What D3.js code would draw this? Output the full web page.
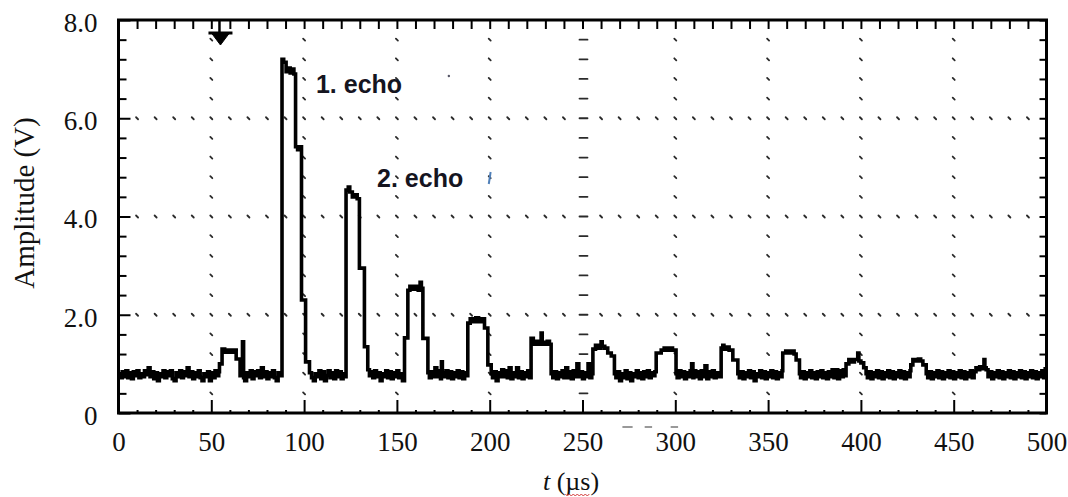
<!DOCTYPE html>
<html>
<head>
<meta charset="utf-8">
<script src="https://cdn.jsdelivr.net/npm/d3@7"></script>
<style>
  html, body { margin: 0; padding: 0; background: #fff; }
  svg { display: block; }
</style>
</head>
<body>
<svg id="chart" width="1068" height="497"></svg>
<script>
// ---- data -----------------------------------------------------------------
// Oscilloscope trace of the received ultrasonic signal: [time (µs), amplitude (V)]
const signal = [
  [0,0.80],[1,0.72],[2,0.84],[3,0.74],[4,0.86],[5,0.72],[6,0.82],[7,0.70],[8,0.84],[9,0.76],
  [10,0.86],[11,0.72],[12,0.80],[13,0.74],[14,0.86],[15,0.78],[16,0.92],[17,0.74],[18,0.84],[19,0.70],
  [20,0.82],[21,0.66],[22,0.80],[23,0.74],[24,0.86],[25,0.72],[26,0.84],[27,0.76],[28,0.86],[29,0.70],
  [30,0.66],[31,0.82],[32,0.74],[33,0.86],[34,0.72],[35,0.84],[36,0.76],[37,0.92],[38,0.74],[39,0.84],
  [40,0.70],[41,0.82],[42,0.74],[43,0.86],[44,0.72],[45,0.66],[46,0.80],[47,0.74],[48,0.84],[49,0.66],
  [50,0.82],[51,0.72],[52,0.86],[53,0.76],[54,0.84],
  // trigger pulse
  [54.4,1.00],[55.8,1.30],[57.2,1.24],[58.5,1.28],[60,1.24],[61.5,1.28],[63.4,1.10],[65.5,0.76],
  [66.2,0.84],[66.8,1.45],[67.4,0.72],
  [68,0.66],[69,0.82],[70,0.74],[71,0.86],[72,0.70],[73,0.84],[74,0.76],[75,0.86],[76,0.72],[77,0.92],
  [78,0.74],[79,0.84],[80,0.70],[81,0.82],[82,0.74],[83,0.86],[84,0.72],[85,0.66],[86,0.82],[87,0.76],
  // 1. echo
  [88.1,7.20],[89,7.14],[90.3,6.95],[91.5,7.02],[92.5,6.92],[93.5,7.00],[94.5,6.90],[95.4,5.42],
  [96.5,5.36],[97.5,5.42],[98.6,2.30],[100.8,1.04],[102.9,0.82],
  [104,0.72],[105,0.66],[106,0.80],[107,0.74],[108,0.86],[109,0.70],[110,0.84],[111,0.66],[112,0.76],
  [113,0.86],[114,0.72],[115,0.82],[116,0.70],[117,0.86],[118,0.74],[119,0.84],[120,0.70],[121,0.80],
  [122,0.74],
  // 2. echo
  [122.6,4.54],[123.8,4.60],[124.6,4.50],[126,4.40],[127.5,4.44],[128.6,4.36],[129.8,2.95],[132.5,1.35],
  [134.3,0.88],[135.2,0.76],
  [136,0.84],[137,0.72],[138,0.86],[139,0.74],[140,0.82],[141,0.66],[142,0.80],[143,0.74],[144,0.86],
  [145,0.72],[146,0.84],[147,0.70],[148,0.82],[149,0.74],[150,0.86],[151,0.72],[152,0.80],[153,0.66],
  // 3. echo
  [154.1,1.53],[155.9,2.50],[157,2.58],[158.5,2.52],[160,2.58],[161.5,2.50],[162.5,2.66],[163.2,2.54],
  [164.0,1.52],[166.7,0.82],
  [167.5,0.72],[168.5,0.84],[169.5,0.74],[170.5,0.92],[171.5,0.74],[172.5,0.86],[173.5,0.70],[174,1.04],
  [174.5,0.82],[175.5,0.74],[176.5,0.86],[177.5,0.72],[178.5,0.84],[179.5,0.70],[180.5,0.82],[181.5,0.74],
  [182.5,0.86],[183.5,0.72],[184.5,0.84],[185.5,0.70],[186.5,0.82],[187.5,0.76],
  // 4. echo
  [188.2,1.83],[189.5,1.92],[191,1.86],[192.5,1.94],[194,1.86],[195.5,1.92],[197.2,1.73],[199.0,0.98],
  [200.8,0.80],
  [201.5,0.72],[202.5,0.84],[203.5,0.66],[204.5,0.82],[205.5,0.74],[206.5,0.88],[207.5,0.74],[208.5,0.86],
  [209.5,0.72],[210.5,0.92],[211.5,0.70],[212.5,0.82],[213.5,0.74],[214.5,0.92],[215.5,0.72],[216.5,0.84],
  [217.5,0.70],[218.5,0.82],[219.5,0.74],[220.5,0.86],[221.5,0.72],
  // 5. echo
  [222.3,1.52],[223.5,1.40],[225,1.46],[226.5,1.40],[227.7,1.63],[228.3,1.44],[229.5,1.40],[231,1.46],
  [232.2,1.40],[233.1,0.80],
  [234,0.72],[235,0.84],[236,0.70],[237,0.82],[238,0.74],[239,0.86],[240,0.72],[241,0.92],[242,0.72],
  [243,0.84],[244,0.70],[245,0.86],[246,0.74],[247,1.00],[248,0.74],[249,0.84],[250,0.70],[251,0.82],
  [252,0.74],[253,1.00],[254,0.72],[255,0.80],
  // 6. echo
  [255.6,1.30],[257,1.38],[258.5,1.32],[260,1.45],[260.6,1.36],[262,1.32],[263.6,1.22],[265.5,1.16],
  [267.2,0.80],
  [268,0.72],[269,0.84],[270,0.66],[271,0.80],[272,0.72],[273,0.86],[274,0.70],[275,0.82],[276,0.66],
  [277,0.80],[278,0.74],[279,0.86],[280,0.72],[281,0.82],[282,0.70],[283,0.84],[284,0.74],[285,0.86],
  [286,0.72],[287,0.82],[288,0.76],[289,0.84],
  // 7. echo
  [289.7,1.22],[292.4,1.28],[294,1.32],[295.5,1.28],[297,1.32],[298.5,1.28],[300.4,0.80],
  [301,0.72],[302,0.86],[303,0.74],[304,0.84],[305,0.70],[306,0.82],[307,0.74],[308,0.86],[308.8,1.00],
  [309.5,0.72],[310,0.86],[311,0.74],[312,0.84],[313,0.70],[314,0.86],[315,0.74],[316,0.96],[317,0.70],
  [318,0.84],[319,0.74],[320,0.86],[321,0.72],[322,0.82],[323,0.74],
  // 8. echo
  [324.7,1.32],[325.6,1.38],[326.2,1.30],[327.5,1.34],[329,1.28],[331.0,1.08],[333.7,0.80],
  [334.5,0.72],[335.5,0.84],[336.5,0.70],[337.5,0.82],[338.5,0.74],[339.5,0.86],[340.5,0.72],[341.5,0.84],
  [342.5,0.66],[343.5,0.80],[344.5,0.74],[345.5,0.86],[346.5,0.72],[347.5,0.84],[348.5,0.70],[349.5,0.82],
  [350.5,0.74],[351.5,0.86],[352.5,0.72],[353.5,0.84],[354.5,0.70],[355.5,0.82],[356.5,0.74],[357.5,0.86],
  // 9. echo
  [357.9,1.22],[359.5,1.26],[361,1.22],[362.5,1.26],[364,1.20],[365.1,1.08],[366.9,0.80],
  [367.5,0.72],[368.5,0.84],[369.5,0.70],[370.5,0.82],[371.5,0.74],[372.5,0.86],[373.5,0.72],[374.5,0.82],
  [375.5,0.70],[376.5,0.84],[377.5,0.74],[378.5,0.86],[379.5,0.72],[380.5,0.82],[381.5,0.70],[382.5,0.84],
  [383.5,0.74],[384.5,0.88],[385.5,0.72],[386.5,0.88],[387.5,0.70],[388.5,0.86],[389.5,0.74],[390.5,0.88],
  [391.5,0.76],
  // 10. echo
  [392,1.00],[393.5,1.09],[395,1.04],[396.5,1.09],[398.3,1.22],[398.9,1.06],[400,1.02],[401.5,0.92],
  [402.8,0.80],
  [403.5,0.72],[404.5,0.84],[405.5,0.70],[406.5,0.82],[407.5,0.74],[408.5,0.86],[409.5,0.72],[410.5,0.84],
  [411.5,0.70],[412.5,0.82],[413.5,0.74],[414.5,0.86],[415.5,0.72],[416.5,0.84],[417.5,0.70],[418.5,0.82],
  [419.5,0.74],[420.5,0.86],[421.5,0.72],[422.5,0.84],[423.5,0.70],[424.5,0.82],[425.5,0.74],[426.5,0.86],
  // 11. echo
  [426.9,0.98],[428,1.09],[429.5,1.06],[431,1.10],[432.2,1.06],[433.4,0.98],[435.2,0.80],
  [436,0.72],[437,0.84],[438,0.70],[439,0.82],[440,0.74],[441,0.86],[442,0.72],[443,0.84],[444,0.70],
  [445,0.82],[446,0.74],[447,0.86],[448,0.72],[449,0.84],[450,0.70],[451,0.82],[452,0.74],[453,0.86],
  [454,0.72],[455,0.84],[456,0.70],[457,0.82],[458,0.74],[459,0.86],[460,0.72],[461,0.84],[462,0.92],
  [463,0.88],[464,0.94],[465,0.90],[466.3,1.09],[466.8,0.92],[467.5,0.88],[468.5,0.74],[469.5,0.84],
  [470.5,0.70],[471.5,0.82],[472.5,0.74],[473.5,0.86],[474.5,0.72],[475.5,0.84],[476.5,0.70],[477.5,0.82],
  [478.5,0.74],[479.5,0.86],[480.5,0.72],[481.5,0.84],[482.5,0.70],[483.5,0.82],[484.5,0.74],[485.5,0.86],
  [486.5,0.72],[487.5,0.84],[488.5,0.70],[489.5,0.82],[490.5,0.74],[491.5,0.86],[492.5,0.72],[493.5,0.84],
  [494.5,0.70],[495.5,0.82],[496.5,0.74],[497.5,0.86],[498.5,0.72],[499.3,0.90],[499.6,0.90]
];

// axis ticks and labels
const xTickValues = [0, 50, 100, 150, 200, 250, 300, 350, 400, 450, 500];
const xTickLabels = ["0", "50", "100", "150", "200", "250", "300", "350", "400", "450", "500"];
const yTickValues = [0, 2, 4, 6, 8];
const yTickLabels = ["0", "2.0", "4.0", "6.0", "8.0"];
const xMinorStep = 10;   // µs
const yMinorStep = 0.4;  // V

// echo annotations (anchored in data units)
const echoNames = ["1. echo", "2. echo"];
const echoTimes = [106.4, 139.3];
const echoVolts = [6.51, 4.60];

// trigger marker position on the time axis
const triggerTime = 54.4;

const xTitle = ["t", " (µs)"];
const yTitle = "Amplitude (V)";

// ---- layout ---------------------------------------------------------------
const svg = d3.select("#chart");
const plotLeft = 118.5, plotRight = 1046.5, plotTop = 20, plotBottom = 413;

const x = d3.scaleLinear().domain([0, 500]).range([plotLeft, plotRight]);
const y = d3.scaleLinear().domain([0, 8]).range([plotBottom, plotTop]);

const serif = "'Liberation Serif', 'Times New Roman', serif";
const ink = "#111";

const isMajorY = v => Math.abs(v / 2 - Math.round(v / 2)) < 1e-6;
const xMinor = d3.range(0, 500 + 1e-9, xMinorStep).filter(v => v % 50 !== 0);
const yMinor = d3.range(0, 8 + 1e-9, yMinorStep).map(v => +v.toFixed(1)).filter(v => !isMajorY(v));

// ---- dotted grid --------------------------------------------------------
const grid = svg.append("g").attr("stroke", "#2a2a2a").attr("stroke-width", 1.8).attr("stroke-linecap", "round");
const gridX = xTickValues.filter(v => v > 0 && v < 500);
const gridY = yTickValues.filter(v => v > 0 && v < 8);
const allY = d3.range(0, 8 + 1e-9, yMinorStep).map(v => +v.toFixed(1)).filter(v => v > 0 && v < 8);
const allX = d3.range(0, 500 + 1e-9, xMinorStep).filter(v => v > 0 && v < 500);

// dots along vertical grid lines
gridX.forEach(tv => {
  allY.forEach(vv => {
    const px = x(tv), py = y(vv);
    if (tv === 250) {
      grid.append("line").attr("x1", px - 3).attr("x2", px + 5).attr("y1", py).attr("y2", py).attr("stroke-width", 1.8);
    } else {
      grid.append("line").attr("x1", px - 1).attr("x2", px + 1).attr("y1", py - 1).attr("y2", py + 1);
    }
  });
});
// dots along horizontal grid lines
gridY.forEach(vv => {
  allX.forEach(tv => {
    if (gridX.includes(tv)) return;
    const px = x(tv), py = y(vv);
    grid.append("line").attr("x1", px - 1).attr("x2", px + 1).attr("y1", py - 1).attr("y2", py + 1);
  });
});

// ---- axes (ticks point inward) -------------------------------------------
function styleAxis(g) {
  g.select(".domain").remove();
  g.selectAll(".tick line").attr("stroke", "#000").attr("stroke-width", 2);
  g.selectAll(".tick text").attr("fill", ink).attr("font-family", serif).attr("font-size", 27);
}

// bottom: labelled major ticks + short minor ticks
svg.append("g").attr("transform", `translate(0,${plotBottom})`)
  .call(d3.axisBottom(x).tickValues(xTickValues).tickSize(-13).tickPadding(19)
    .tickFormat((d, i) => xTickLabels[i]))
  .call(styleAxis);
svg.append("g").attr("transform", `translate(0,${plotBottom})`)
  .call(d3.axisBottom(x).tickValues(xMinor).tickSize(-3).tickFormat(""))
  .call(styleAxis);

// top: all ticks, no labels
svg.append("g").attr("transform", `translate(0,${plotTop})`)
  .call(d3.axisTop(x).tickValues(xTickValues.concat(xMinor)).tickSize(-9).tickFormat(""))
  .call(styleAxis);

// left: labelled major ticks + minor ticks
svg.append("g").attr("transform", `translate(${plotLeft},0)`)
  .call(d3.axisLeft(y).tickValues(yTickValues).tickSize(-12).tickPadding(21)
    .tickFormat((d, i) => yTickLabels[i]))
  .call(styleAxis)
  .call(g => g.selectAll(".tick text").attr("dy", "0.42em"));
svg.append("g").attr("transform", `translate(${plotLeft},0)`)
  .call(d3.axisLeft(y).tickValues(yMinor).tickSize(-8).tickFormat(""))
  .call(styleAxis);

// right: all ticks, no labels
svg.append("g").attr("transform", `translate(${plotRight},0)`)
  .call(d3.axisRight(y).tickValues(yTickValues.concat(yMinor)).tickSize(-7).tickFormat(""))
  .call(styleAxis);

// ---- signal trace -------------------------------------------------------
const line = d3.line()
  .x(d => x(d[0]))
  .y(d => y(d[1]))
  .curve(d3.curveStepAfter);

svg.append("path")
  .datum(signal)
  .attr("d", line)
  .attr("fill", "none")
  .attr("stroke", "#000")
  .attr("stroke-width", 3.6)
  .attr("stroke-linejoin", "miter");

// ---- plot frame -----------------------------------------------------------
svg.append("rect")
  .attr("x", plotLeft).attr("y", plotTop)
  .attr("width", plotRight - plotLeft).attr("height", plotBottom - plotTop)
  .attr("fill", "none").attr("stroke", "#000").attr("stroke-width", 3);

// ---- trigger marker -------------------------------------------------------
const tx = x(triggerTime);
const trig = svg.append("g").attr("fill", "#000").attr("stroke", "#000");
trig.append("line").attr("x1", tx).attr("x2", tx).attr("y1", plotTop).attr("y2", plotTop + 13).attr("stroke-width", 2.5);
trig.append("line").attr("x1", tx - 11).attr("x2", tx + 13).attr("y1", plotTop + 13).attr("y2", plotTop + 13).attr("stroke-width", 3);
trig.append("path")
  .attr("d", `M${tx - 8},${plotTop + 13} L${tx + 10},${plotTop + 13} L${tx + 1},${plotTop + 25} Z`)
  .attr("stroke-width", 1);

// ---- echo labels ----------------------------------------------------------
svg.append("g").selectAll("text")
  .data(echoNames)
  .join("text")
  .attr("x", (d, i) => x(echoTimes[i]))
  .attr("y", (d, i) => y(echoVolts[i]))
  .attr("font-family", "'Liberation Sans', Arial, sans-serif")
  .attr("font-weight", "bold")
  .attr("font-size", 25)
  .attr("fill", "#15151f")
  .text(d => d);

// ---- axis titles ----------------------------------------------------------
const xt = svg.append("text")
  .attr("x", 571).attr("y", 490)
  .attr("text-anchor", "middle")
  .attr("font-family", serif)
  .attr("font-size", 26)
  .attr("fill", ink);
xt.append("tspan").attr("font-style", "italic").text(xTitle[0]);
xt.append("tspan").text(xTitle[1]);

// spell-check style wavy underline beneath the unit
(function () {
  const node = xt.node();
  const full = xTitle.join("");
  const i0 = full.indexOf("µ"), i1 = full.indexOf("s", i0);
  const x0 = node.getStartPositionOfChar(i0).x;
  const x1 = node.getEndPositionOfChar(i1).x;
  const yy = 494;
  let d = `M${x0},${yy}`;
  let k = 0;
  for (let px = x0 + 2; px <= x1 + 0.1; px += 2) {
    d += ` L${px},${yy + (k % 2 === 0 ? 2 : 0)}`;
    k++;
  }
  svg.append("path").attr("d", d).attr("fill", "none").attr("stroke", "#d23a3a").attr("stroke-width", 1);
})();

svg.append("text")
  .attr("transform", "translate(34,203) rotate(-90)")
  .attr("text-anchor", "middle")
  .attr("font-family", serif)
  .attr("font-size", 29)
  .attr("fill", ink)
  .text(yTitle);

// ---- stray marks near the axis ----------------------------------------------
const strays = [[271.5, 277], [283.5, 287.5], [297.5, 301.5]];
svg.append("g").selectAll("line").data(strays).join("line")
  .attr("x1", d => x(d[0])).attr("x2", d => x(d[1]))
  .attr("y1", 427).attr("y2", 427)
  .attr("stroke", "#777").attr("stroke-width", 1.5);
svg.append("line")
  .attr("x1", x(200.5)).attr("x2", x(199.5)).attr("y1", 172).attr("y2", 184)
  .attr("stroke", "#4f7fb8").attr("stroke-width", 2);
svg.append("circle").attr("cx", x(178)).attr("cy", 76).attr("r", 1.2).attr("fill", "#556");
</script>
</body>
</html>
